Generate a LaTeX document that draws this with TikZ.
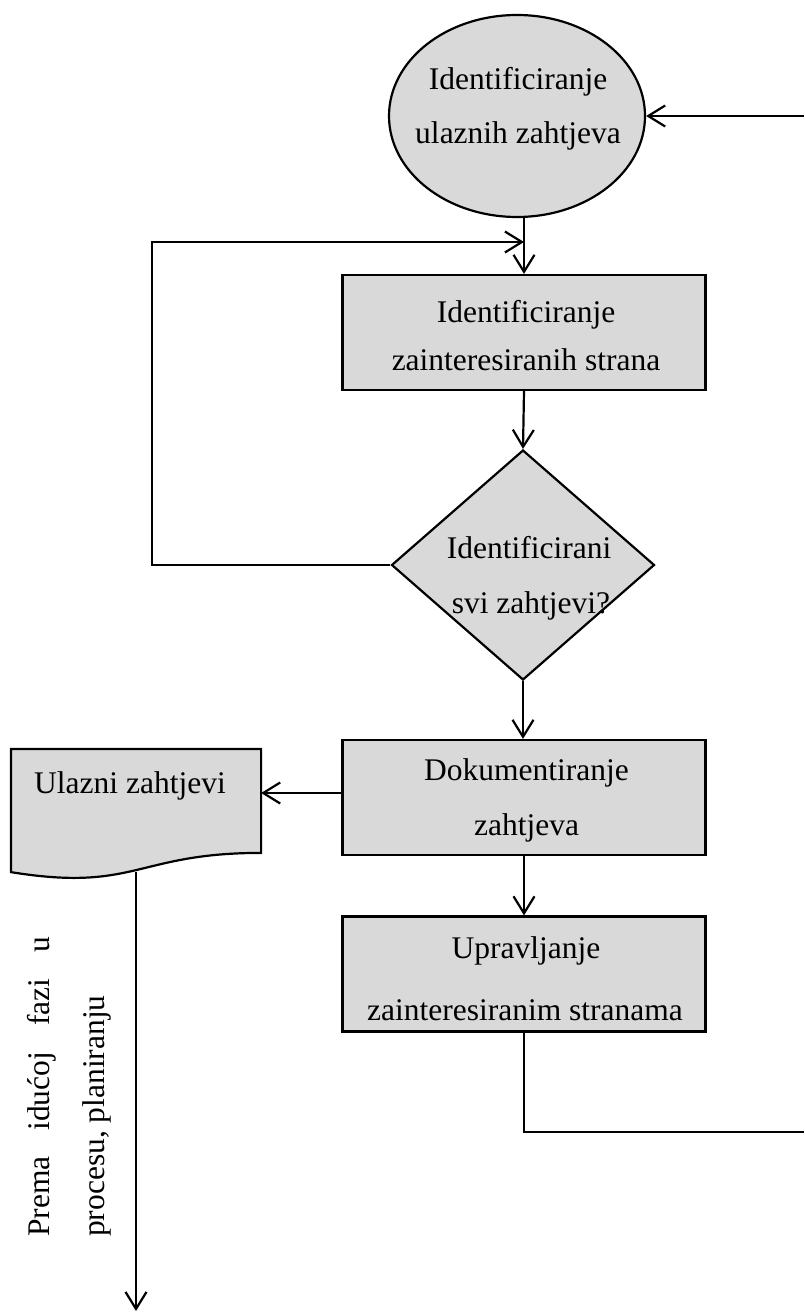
\documentclass[tikz,border=0pt]{standalone}
\usepackage{fontspec}
\setmainfont{Liberation Serif}
\usetikzlibrary{shapes.geometric,arrows.meta,calc}
\definecolor{shapegray}{HTML}{D9D9D9}
\begin{document}
\begin{tikzpicture}[x=1pt,y=-1pt,
  line width=2.2pt,
  shapefill/.style={draw=black,fill=shapegray,line width=2.2pt,inner sep=0pt},
  boxnode/.style={shapefill,rectangle,minimum width=363pt,minimum height=115pt},
  txt/.style={anchor=base,inner sep=0pt,font=\fontsize{31.5pt}{55pt}\selectfont},
  arr/.style={-{Straight Barb[length=17pt,width=21pt]}},
  conn/.style={line width=2.2pt}]
\useasboundingbox (0,0) rectangle (804,1313);

% shapes
\node[shapefill,ellipse,minimum width=256pt,minimum height=202pt] (e1) at (517,116) {};
\node[boxnode] (b1) at (524,332.5) {};
\node[shapefill,diamond,minimum width=263pt,minimum height=230pt] (d) at (523,565) {};
\node[boxnode] (b3) at (524,797.5) {};
\node[boxnode] (b4) at (524,974) {};
\node[rectangle,inner sep=0pt,minimum width=248pt,minimum height=121pt] (doc) at (136,810.5) {};
\draw[fill=shapegray] (doc.north west) -- (doc.north east) -- ([yshift=-104pt]doc.north east)
  .. controls ([yshift=-104pt]doc.north) and ([yshift=-143.5pt]doc.north) .. (doc.south west) -- cycle;

% texts
\node[txt] (e1a) at (518,90) {Identificiranje};
\node[txt] (e1b) at (518,144) {ulaznih zahtjeva};
\node[txt] (b1a) at (526,323) {Identificiranje};
\node[txt] (b1b) at (526,370) {zainteresiranih strana};
\node[txt] (da) at (529,558) {Identificirani};
\node[txt] (db) at (531,613) {svi zahtjevi?};
\node[txt] (b3a) at (526.5,780) {Dokumentiranje};
\node[txt] (b3b) at (526.5,835) {zahtjeva};
\node[txt] (b4a) at (526,958) {Upravljanje};
\node[txt] (b4b) at (525,1020) {zainteresiranim stranama};
\node[txt] (doct) at (130,793) {Ulazni zahtjevi};
\node[anchor=north west,rotate=90,inner sep=0pt,text width=300pt,align=justify,
  font=\fontsize{31.5pt}{55pt}\selectfont] (side) at (26,1238)
  {Prema idućoj fazi u \linebreak procesu, planiranju};

% coordinates
\coordinate (rin) at (804,116);
\coordinate (lp) at (152,242);
\coordinate (ret) at (804,1132);
\coordinate (out) at (136,1311);

% connectors
\draw[arr] (rin) -- (e1.east);
\draw[arr] (e1.south -| b1.north) -- (b1.north);
\draw[arr] (b1.south) -- (d.north);
\draw[arr] (d.west) -| (lp) -- (lp -| b1.north);
\draw[arr] (d.south) -- (d.south |- b3.north);
\draw[arr] ([yshift=4.5pt]b3.west) -- ([yshift=4.5pt]b3.west -| doc.east);
\draw[arr] (b3.south) -- (b4.north);
\draw[conn] (b4.south) |- (ret);
\draw[arr] (doc.south) -- (out);
\end{tikzpicture}
\end{document}
